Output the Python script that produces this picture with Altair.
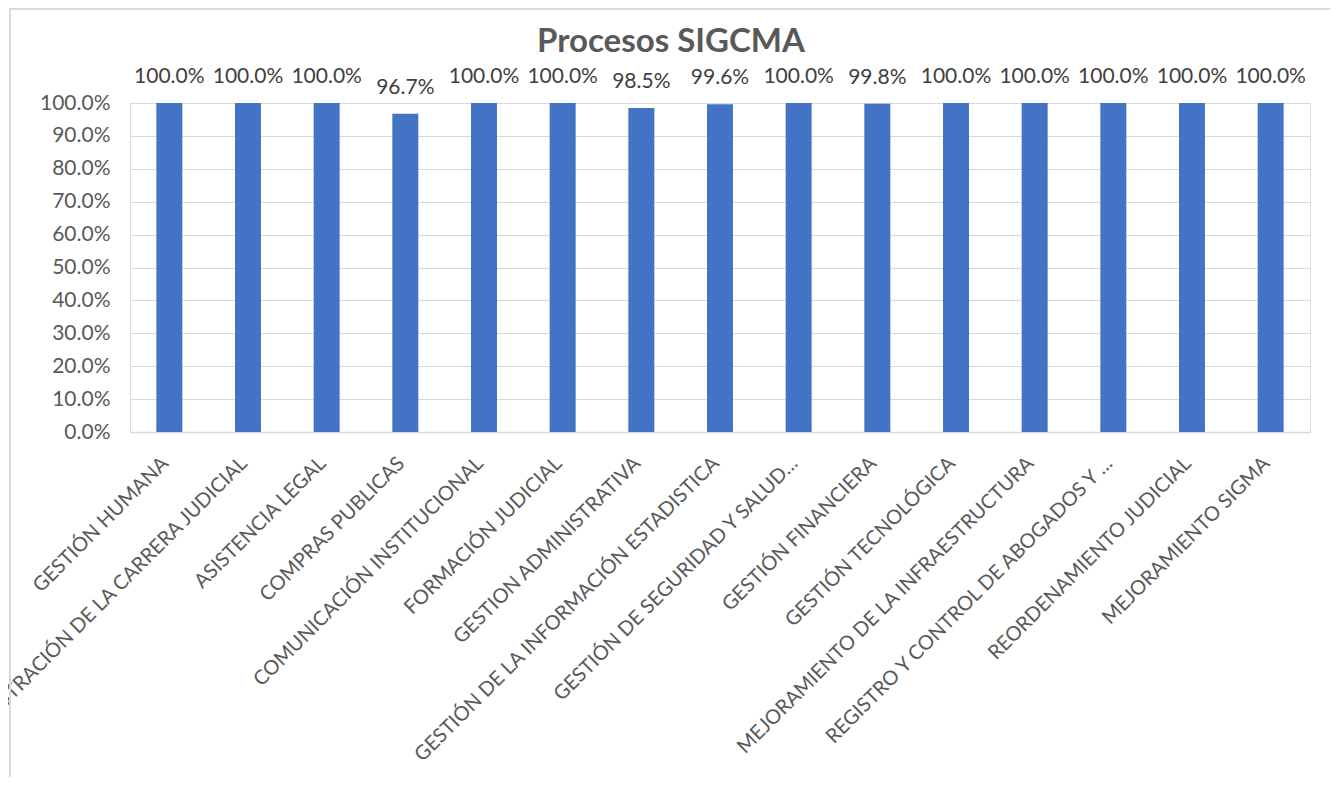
import altair as alt
import pandas as pd

categories = [
    "GESTIÓN HUMANA",
    "ADMINISTRACIÓN DE LA CARRERA JUDICIAL",
    "ASISTENCIA LEGAL",
    "COMPRAS PUBLICAS",
    "COMUNICACIÓN INSTITUCIONAL",
    "FORMACIÓN JUDICIAL",
    "GESTION ADMINISTRATIVA",
    "GESTIÓN DE LA INFORMACIÓN ESTADISTICA",
    "GESTIÓN DE SEGURIDAD Y SALUD…",
    "GESTIÓN FINANCIERA",
    "GESTIÓN TECNOLÓGICA",
    "MEJORAMIENTO DE LA INFRAESTRUCTURA",
    "REGISTRO Y CONTROL DE ABOGADOS Y …",
    "REORDENAMIENTO JUDICIAL",
    "MEJORAMIENTO SIGMA",
]
values = [1.0, 1.0, 1.0, 0.967, 1.0, 1.0, 0.985, 0.996, 1.0, 0.998, 1.0, 1.0, 1.0, 1.0, 1.0]
y_ticks = [0.0, 0.1, 0.2, 0.3, 0.4, 0.5, 0.6, 0.7, 0.8, 0.9, 1.0]

df = pd.DataFrame({"proceso": categories, "valor": values})

FONT = "Lato"
GRAY = "#595959"

x = alt.X(
    "proceso:N",
    sort=categories,
    scale=alt.Scale(paddingInner=0.67, paddingOuter=0.335),
    axis=alt.Axis(
        title=None,
        labelAngle=-45,
        labelAlign="right",
        labelBaseline="middle",
        labelPadding=28,
        labelOffset=-4,
        labelFontSize=20,
        labelColor=GRAY,
        labelFont=FONT,
        labelLimit=0,
        labelOverlap=False,
        ticks=False,
        domainColor="#d9d9d9",
        domainWidth=1.5,
        grid=False,
    ),
)
y = alt.Y(
    "valor:Q",
    scale=alt.Scale(domain=[0, 1.0], nice=False),
    axis=alt.Axis(
        title=None,
        values=y_ticks,
        format=".1%",
        labelFontSize=21,
        labelColor=GRAY,
        labelFont=FONT,
        labelPadding=20,
        labelOverlap=False,
        ticks=False,
        domain=False,
        gridColor="#d9d9d9",
        gridWidth=1,
    ),
)

base = alt.Chart(df)
bars = base.mark_bar(color="#4472C4").encode(x=x, y=y)
text = base.mark_text(
    baseline="middle", dy=-26, fontSize=21, color="#404040", font=FONT
).encode(x=x, y=y, text=alt.Text("valor:Q", format=".1%"))

frame_left = alt.Chart(df).mark_rule(color="#d9d9d9", strokeWidth=2).encode(
    x=alt.value(-120), y=alt.value(-94.5), y2=alt.value(730)
)
frame_top = alt.Chart(df).mark_rule(color="#d9d9d9", strokeWidth=2).encode(
    x=alt.value(-120), x2=alt.value(1230), y=alt.value(-94.5)
)

chart = (
    alt.layer(bars, text, frame_left, frame_top)
    .properties(
        width=1180,
        height=329,
        title=alt.TitleParams(
            "Procesos SIGCMA",
            fontSize=33,
            fontWeight="bold",
            color=GRAY,
            font=FONT,
            anchor="middle",
            frame="group",
            dx=-49,
            offset=-51,
        ),
        autosize=alt.AutoSizeParams(type="none"),
        padding={"left": 122, "top": 95, "right": 20, "bottom": 345},
    )
    .configure_view(stroke=None)
    .configure(background="white")
)

chart.save("out.html", embed_options={"renderer": "svg", "actions": False})
